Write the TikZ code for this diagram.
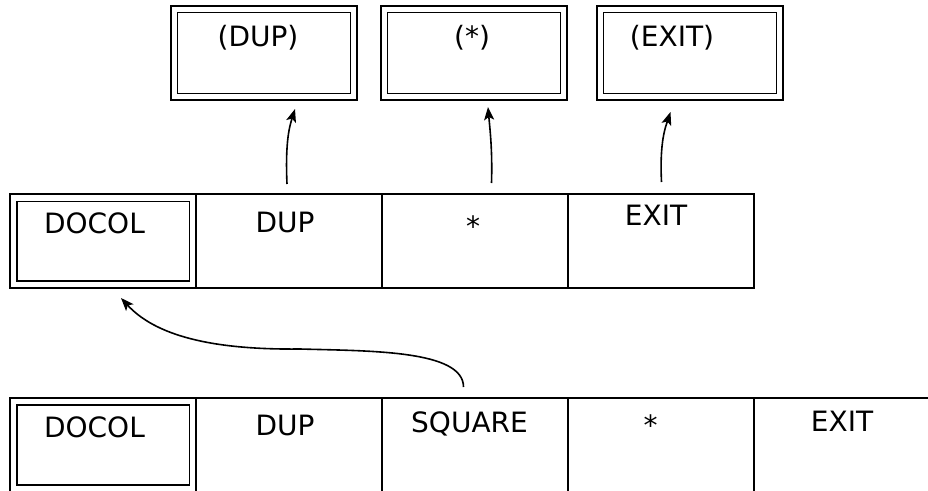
\documentclass[tikz,border=0pt]{standalone}
\usepackage{fontspec}
\setmainfont{DejaVu Sans}
\usetikzlibrary{arrows.meta}
\begin{document}
\begin{tikzpicture}[x=1pt,y=-1pt,
  cell/.style={draw, line width=1.9pt, minimum width=186pt, minimum height=94pt,
               inner sep=0pt, outer sep=0pt, anchor=north west},
  lbl/.style={anchor=base, inner sep=0pt, font=\fontsize{28}{32}\selectfont},
  inner/.style={line width=1.9pt},
  arr/.style={line width=1.6pt, -{Stealth[length=13pt,width=10pt,inset=3pt]}}]
\useasboundingbox (0,0) rectangle (928,490);
\clip (0,0) rectangle (928,490);

% code fields of the primitives
\node[cell] (tDUP)  at (171,6) {};
\node[cell] (tStar) at (381,6) {};
\node[cell] (tEXIT) at (597,6) {};
\foreach \b in {tDUP,tStar,tEXIT}
  \draw[inner] ([shift={(6.5pt,-6.5pt)}]\b.north west) rectangle ([shift={(-6.5pt,6.5pt)}]\b.south east);
\node[lbl] (tDUPl)  at (258,46) {(DUP)};
\node[lbl] (tStarl) at (472,46) {(*)};
\node[lbl] (tEXITl) at (672,46) {(EXIT)};

% the word SQUARE
\node[cell] (mDOCOL) at (10,194)  {};
\node[cell] (mDUP)   at (196,194) {};
\node[cell] (mStar)  at (382,194) {};
\node[cell] (mEXIT)  at (568,194) {};
\draw[inner] ([shift={(7pt,-7.5pt)}]mDOCOL.north west) rectangle ([shift={(-6.5pt,7pt)}]mDOCOL.south east);
\node[lbl] (mDOCOLl) at (94.5,233) {DOCOL};
\node[lbl] (mDUPl)   at (285,232) {DUP};
\node[lbl] (mStarl)  at (473,236) {*};
\node[lbl] (mEXITl)  at (656,225) {EXIT};

% a word that calls SQUARE
\node[cell] (bDOCOL) at (10,398)  {};
\node[cell] (bDUP)   at (196,398) {};
\node[cell] (bSQ)    at (382,398) {};
\node[cell] (bStar)  at (568,398) {};
\node[cell] (bEXIT)  at (754,398) {};
\draw[inner] ([shift={(7pt,-7pt)}]bDOCOL.north west) rectangle ([shift={(-6.5pt,7pt)}]bDOCOL.south east);
\node[lbl] (bDOCOLl) at (94.5,437) {DOCOL};
\node[lbl] (bDUPl)   at (285,435) {DUP};
\node[lbl] (bSQl)    at (469.5,432) {SQUARE};
\node[lbl] (bStarl)  at (650.7,435) {*};
\node[lbl] (bEXITl)  at (842,431) {EXIT};

% pointers to the code fields
\draw[arr] ([xshift=-2pt,yshift=10pt]mDUP.north)
  .. controls +(-2,-44) and +(-5,16) .. ([xshift=31pt,yshift=-9pt]tDUP.south);
\draw[arr] ([xshift=16.5pt,yshift=11pt]mStar.north)
  .. controls +(1,-33) and +(2,23) .. ([xshift=14pt,yshift=-7pt]tStar.south);
\draw[arr] ([xshift=0.5pt,yshift=12pt]mEXIT.north)
  .. controls +(-2,-40) and +(-5,15) .. ([xshift=-19.5pt,yshift=-12pt]tEXIT.south);

% SQUARE points back at its own DOCOL
\coordinate (bend) at (300,349);
\draw[arr] ([xshift=-11.5pt,yshift=11pt]bSQ.north)
  .. controls +(0,-37) and +(70,2) .. (bend)
  .. controls +(-90,1) and +(34,37) .. ([xshift=18pt,yshift=-10pt]mDOCOL.south);
\end{tikzpicture}
\end{document}
